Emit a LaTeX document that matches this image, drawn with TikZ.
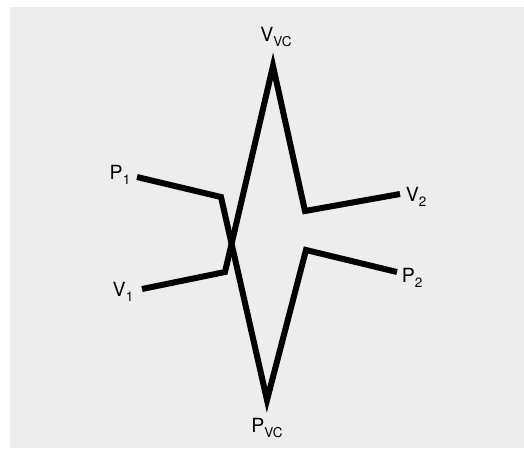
\documentclass[tikz,border=0pt]{standalone}
\usepackage{fontspec}
\setmainfont{TeX Gyre Heros}
\usetikzlibrary{positioning}
\newcommand{\lowsub}[1]{\raisebox{-0.45ex}{\fontsize{13.5}{15}\selectfont #1}}
\tikzset{
  curve/.style={line width=6pt, line join=miter, miter limit=12},
  tag/.style={font=\fontsize{19.5}{22}\selectfont, inner sep=0pt}
}
\begin{document}
\begin{tikzpicture}[x=1pt,y=-1pt]
    % Paper
    \fill[white] (0,0) rectangle (524,448);
    \fill[black!7] (10,7) rectangle (524,448);
    \useasboundingbox (0,0) rectangle (524,448);

    % Corners
    \coordinate (vvc) at (273,66);
    \coordinate (pvc) at (267,400);
    \coordinate (p1end) at (137,177);
    \coordinate (p1bend) at (221,197);
    \coordinate (v1end) at (142,289);
    \coordinate (v1bend) at (225,272);
    \coordinate (v2bend) at (305,211);
    \coordinate (v2end) at (400,194);
    \coordinate (p2bend) at (306,250);
    \coordinate (p2end) at (397,272);

    % Curves
    \draw[curve] (p1end) -- (p1bend) -- (pvc) -- (p2bend) -- (p2end);
    \draw[curve] (v1end) -- (v1bend) -- (vvc) -- (v2bend) -- (v2end);

    % Labels
    \node[tag] (vvclab) at (276,37) {V\lowsub{VC}};
    \node[tag] (pvclab) at (267,428) {P\lowsub{VC}};
    \node[tag] (p1lab) at (120,175) {P\lowsub{1}};
    \node[tag] (v1lab) at (123,292) {V\lowsub{1}};
    \node[tag] (v2lab) at (416,197) {V\lowsub{2}};
    \node[tag] (p2lab) at (412,278) {P\lowsub{2}};
\end{tikzpicture}
\end{document}
